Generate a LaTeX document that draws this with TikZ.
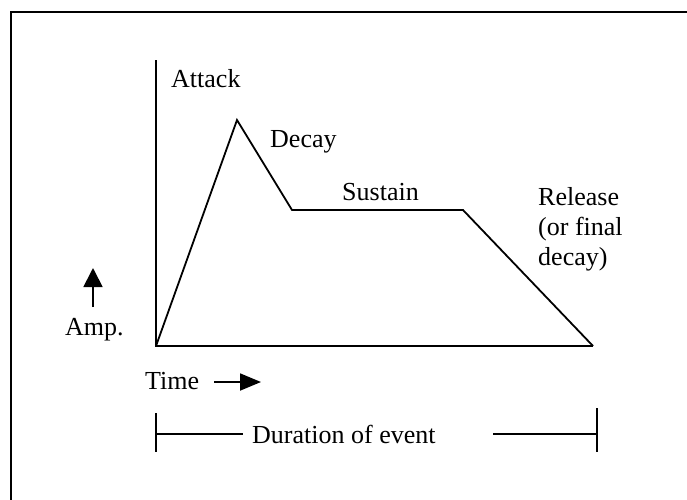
\documentclass[tikz,border=0pt]{standalone}
\usepackage{fontspec}
\setmainfont{Liberation Serif}
\usetikzlibrary{arrows.meta}
\begin{document}
\begin{tikzpicture}[x=1pt,y=-1pt,
  lbl/.style={inner sep=0pt, anchor=base west, font=\fontsize{26}{30}\selectfont},
  ln/.style={line width=1.8pt},
  bigarrow/.style={-{Triangle[width=19pt,length=19pt]}, line width=1.8pt}]
\useasboundingbox (0,0) rectangle (687,499);
\begin{scope}
  \clip (0,0) rectangle (687,499);
  \draw[line width=2.2pt] (11,12) rectangle (720,530);
\end{scope}
% envelope and axes
\coordinate (ytop) at (156,60);
\coordinate (o) at (156,346);
\coordinate (xend) at (593,346);
\coordinate (peak) at (237,120);
\coordinate (dend) at (292,210);
\coordinate (send) at (463,210);
\draw[ln] (ytop) -- (o) -- (xend);
\draw[ln, line join=miter] (o) -- (peak) -- (dend) -- (send) -- (xend);
% labels
\node[lbl] (attack) at (171,87) {Attack};
\node[lbl] (decay) at (270,147) {Decay};
\node[lbl] (sustain) at (342,200) {Sustain};
\node[lbl] (rel1) at (538,205) {Release};
\node[lbl] (rel2) at (538,235) {(or final};
\node[lbl] (rel3) at (538,265) {decay)};
% amplitude
\node[lbl] (amp) at (65,335) {Amp.};
\coordinate (ampa) at (93,307);
\coordinate (ampb) at (93,268);
\draw[bigarrow] (ampa) -- (ampb);
% time
\node[lbl] (time) at (145,389) {Time};
\coordinate (ta) at (214,382);
\coordinate (tb) at (261,382);
\draw[-{Triangle[width=17pt,length=21pt]}, line width=1.8pt] (ta) -- (tb);
% duration
\node[lbl] (dur) at (252,443) {Duration of event};
\coordinate (l1) at (156,413);
\coordinate (l2) at (156,452);
\coordinate (lm) at (156,434);
\coordinate (lme) at (243,434);
\coordinate (r1) at (597,408);
\coordinate (r2) at (597,452);
\coordinate (rm) at (597,434);
\coordinate (rms) at (493,434);
\draw[ln] (l1) -- (l2);
\draw[ln] (r1) -- (r2);
\draw[ln] (lm) -- (lme);
\draw[ln] (rms) -- (rm);
\end{tikzpicture}
\end{document}
